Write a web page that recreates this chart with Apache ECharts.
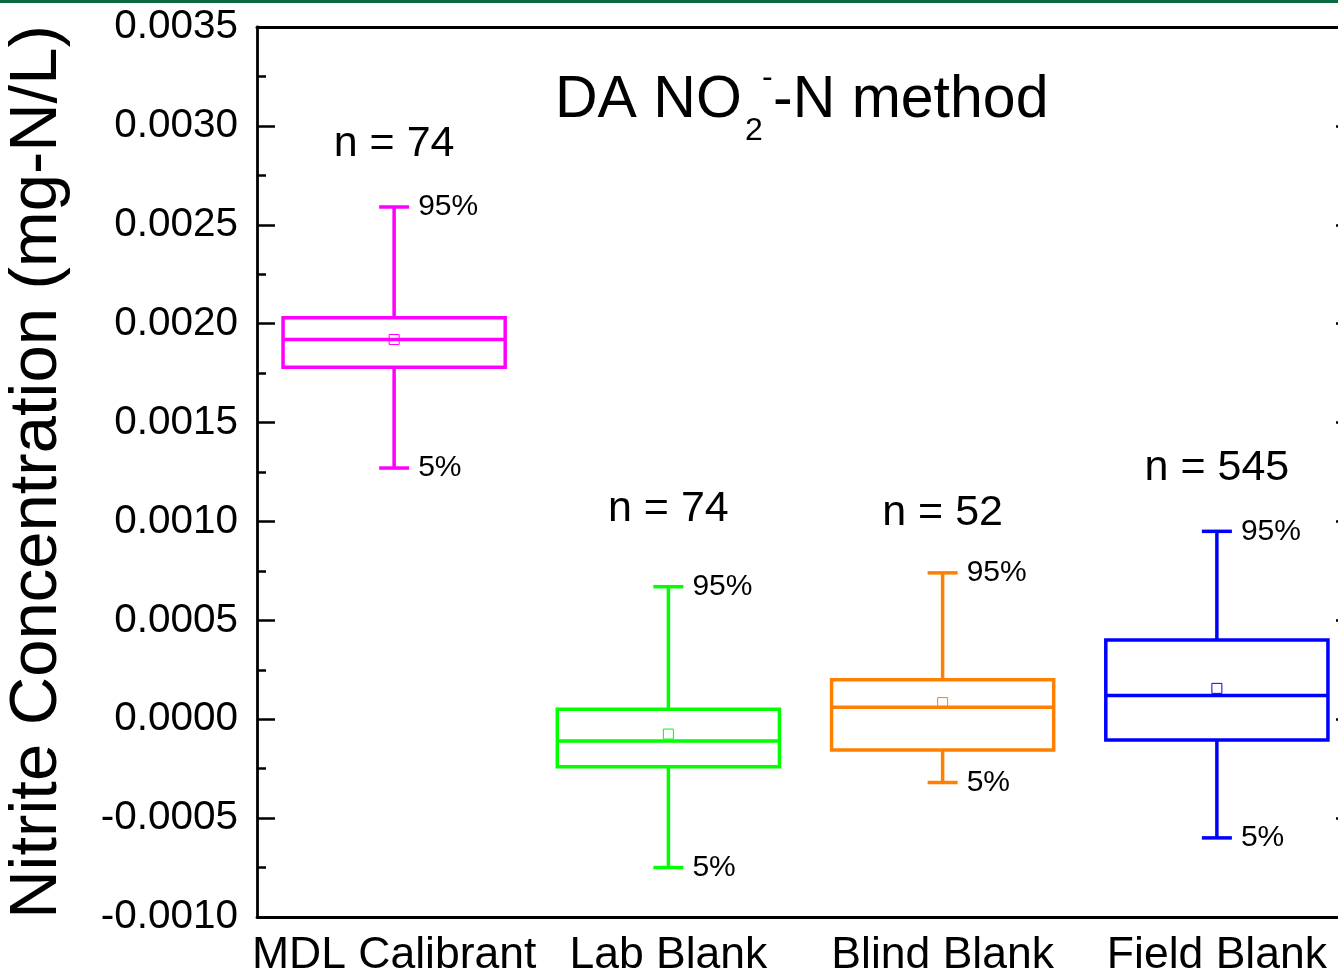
<!DOCTYPE html>
<html>
<head>
<meta charset="utf-8">
<script src="https://cdn.jsdelivr.net/npm/echarts@6/dist/echarts.min.js"></script>
<style>
  html, body { margin: 0; padding: 0; background: #fff; }
  #chart { width: 1338px; height: 975px; }
</style>
</head>
<body>
<div id="chart"></div>
<script>
// ---- data ----
const categories = ['MDL Calibrant', 'Lab Blank', 'Blind Blank', 'Field Blank'];
const p5     = [0.00127, -0.00075, -0.00032, -0.00060];
const q1     = [0.00178, -0.00024, -0.000155, -0.000105];
const median = [0.00192, -0.00011, 0.00006, 0.00012];
const q3     = [0.00203, 0.00005, 0.00020, 0.00040];
const p95    = [0.00259, 0.00067, 0.00074, 0.00095];
const mean   = [0.00192, -0.000075, 0.000084, 0.000156];
const counts = [74, 74, 52, 545];
const countLabelAt = [0.00291, 0.00106, 0.00104, 0.00127];
const yMin = -0.0010, yMax = 0.0035, yStep = 0.0005;

const colors = ['#ff00ff', '#00ff00', '#ff8000', '#0000ff'];
const FONT = 'Liberation Sans, Arial, Helvetica, sans-serif';

const chart = echarts.init(document.getElementById('chart'));

const seriesData = categories.map((c, i) =>
  [i, p5[i], q1[i], median[i], q3[i], p95[i], mean[i], counts[i], countLabelAt[i]]);

function renderItem(params, api) {
  const i = api.value(0);
  const col = colors[i];
  const x = api.coord([i, 0])[0];
  const Y = v => api.coord([i, v])[1];
  const bw = api.size([1, 0])[0] * 0.81;
  const h = bw / 2, cap = 15, lw = 3.5;
  const yP5 = Y(api.value(1)), yQ1 = Y(api.value(2)), yMed = Y(api.value(3)),
        yQ3 = Y(api.value(4)), yP95 = Y(api.value(5)), yMean = Y(api.value(6)),
        yN = Y(api.value(8));
  const ls = { stroke: col, lineWidth: lw, fill: null };
  return {
    type: 'group',
    children: [
      { type: 'line', shape: { x1: x, y1: yQ3, x2: x, y2: yP95 }, style: ls },
      { type: 'line', shape: { x1: x, y1: yQ1, x2: x, y2: yP5 }, style: ls },
      { type: 'line', shape: { x1: x - cap, y1: yP95, x2: x + cap, y2: yP95 }, style: ls },
      { type: 'line', shape: { x1: x - cap, y1: yP5, x2: x + cap, y2: yP5 }, style: ls },
      { type: 'rect', shape: { x: x - h, y: yQ3, width: bw, height: yQ1 - yQ3 }, style: { stroke: col, lineWidth: lw, fill: 'none' } },
      { type: 'line', shape: { x1: x - h, y1: yMed, x2: x + h, y2: yMed }, style: ls },
      { type: 'rect', shape: { x: x - 5, y: yMean - 5, width: 10, height: 10 }, style: { stroke: col, lineWidth: 1, fill: 'none' } },
      { type: 'text', style: { text: '95%', x: x + cap + 9, y: yP95, verticalAlign: 'middle', align: 'left', fontSize: 30, fontFamily: FONT, fill: '#000' } },
      { type: 'text', style: { text: '5%', x: x + cap + 9, y: yP5, verticalAlign: 'middle', align: 'left', fontSize: 30, fontFamily: FONT, fill: '#000' } },
      { type: 'text', style: { text: 'n = ' + api.value(7), x: x, y: yN, verticalAlign: 'middle', align: 'center', fontSize: 43, fontFamily: FONT, fill: '#000' } }
    ]
  };
}

const axisLineStyle = { color: '#000', width: 2.8 };

const option = {
  backgroundColor: '#fff',
  animation: false,
  grid: { left: 257, top: 27, width: 1097, height: 890, outerBoundsMode: 'none', containLabel: false },
  xAxis: [
    {
      type: 'category', data: categories, position: 'bottom',
      axisLine: { onZero: false, lineStyle: axisLineStyle },
      axisTick: { inside: true, length: 17, alignWithLabel: true, lineStyle: { color: '#000', width: 2.5 } },
      axisLabel: { interval: 0, fontSize: 44.5, fontFamily: FONT, color: '#000', margin: 16 },
      splitLine: { show: false }
    },
    {
      type: 'category', data: categories, position: 'top',
      axisLine: { onZero: false, lineStyle: { color: '#000', width: 3 } },
      axisTick: { inside: true, length: 4, alignWithLabel: true, lineStyle: { color: '#000', width: 2 } },
      axisLabel: { show: false },
      splitLine: { show: false }
    }
  ],
  yAxis: [
    {
      type: 'value', min: yMin, max: yMax, interval: yStep, position: 'left',
      name: 'Nitrite Concentration (mg-N/L)', nameLocation: 'middle', nameRotate: 90, nameGap: 186,
      nameTextStyle: { fontSize: 67, fontFamily: FONT, color: '#000' },
      axisLine: { show: true, onZero: false, lineStyle: axisLineStyle },
      axisTick: { show: true, inside: true, length: 18, lineStyle: { color: '#000', width: 2.5 } },
      minorTick: { show: true, splitNumber: 2, length: 9, lineStyle: { color: '#000', width: 2.5 } },
      axisLabel: { fontSize: 40.5, fontFamily: FONT, color: '#000', margin: 19, formatter: v => v.toFixed(4) },
      splitLine: { show: false }
    },
    {
      type: 'value', min: yMin, max: yMax, interval: yStep, position: 'right',
      axisLine: { show: true, onZero: false, lineStyle: axisLineStyle },
      axisTick: { show: true, inside: true, length: 18, lineStyle: { color: '#000', width: 2.5 } },
      minorTick: { show: true, splitNumber: 2, length: 9, lineStyle: { color: '#000', width: 2.5 } },
      axisLabel: { show: false },
      splitLine: { show: false }
    }
  ],
  series: [{
    type: 'custom',
    renderItem: renderItem,
    data: seriesData,
    encode: { x: 0, y: [1, 2, 3, 4, 5] },
    clip: false
  }],
  graphic: [
    { type: 'rect', left: 0, top: 0, shape: { width: 1338, height: 3 }, style: { fill: '#0a6b3f' }, z: 100 },
    { type: 'text', x: 555, y: 101, style: { text: 'DA NO', fontSize: 59, fontFamily: FONT, fill: '#000', verticalAlign: 'middle', align: 'left' } },
    { type: 'text', x: 745, y: 131, style: { text: '2', fontSize: 32, fontFamily: FONT, fill: '#000', verticalAlign: 'middle', align: 'left' } },
    { type: 'text', x: 762, y: 78, style: { text: '-', fontSize: 32, fontFamily: FONT, fill: '#000', verticalAlign: 'middle', align: 'left' } },
    { type: 'text', x: 773, y: 101, style: { text: '-N method', fontSize: 59, fontFamily: FONT, fill: '#000', verticalAlign: 'middle', align: 'left' } }
  ]
};

chart.setOption(option);
</script>
</body>
</html>
